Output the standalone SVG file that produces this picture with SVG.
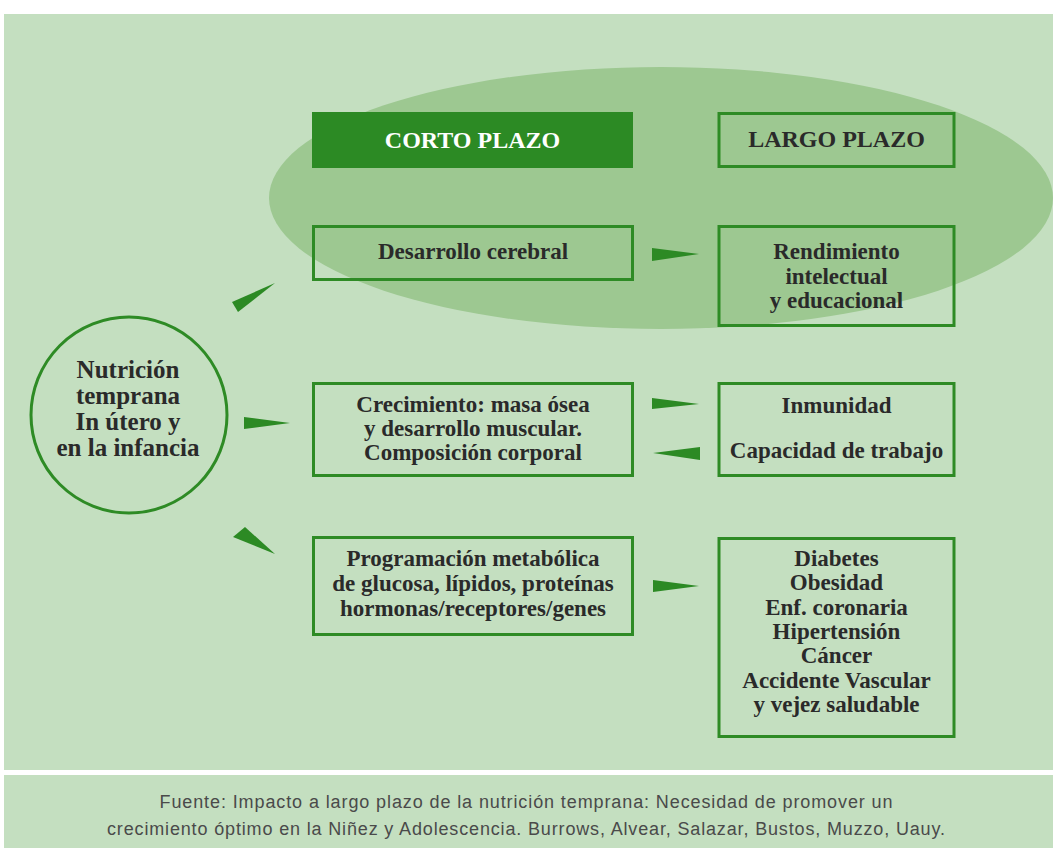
<svg xmlns="http://www.w3.org/2000/svg" width="1053" height="848" viewBox="0 0 1053 848">
<style>
.bg{fill:#c4dfc0}
.box{fill:none;stroke:#2e8b25;stroke-width:3}
.t{font-family:"Liberation Serif",serif;font-weight:bold;font-size:23px;fill:#2a2a2a;text-anchor:middle}
.c{font-size:25px}
.h{font-size:24px}
.w{fill:#ffffff}
.arr{fill:#2c8a24}
.src{font-family:"Liberation Sans",sans-serif;font-size:18px;fill:#4a4a4a;text-anchor:middle}
</style>
<rect x="0" y="0" width="1053" height="848" fill="#ffffff"/>
<rect class="bg" x="4" y="14" width="1049" height="756"/>
<rect class="bg" x="4" y="775" width="1049" height="73"/>
<ellipse cx="661" cy="198" rx="392" ry="131" fill="#9dc891"/>

<g id="connectors">
<polygon class="arr" points="232,302 238,312 275,283"/>
<polygon class="arr" points="244,417 244,429 290,423"/>
<polygon class="arr" points="233,537 245,527 275,554"/>
<polygon class="arr" points="652,248 652,261 699,254"/>
<polygon class="arr" points="652,398 652,409 699,404"/>
<polygon class="arr" points="700,447 700,460 653,453"/>
<polygon class="arr" points="653,580 653,592 699,586"/>
</g>

<g id="nutricion">
<circle cx="129" cy="415" r="98" fill="none" stroke="#2e8b25" stroke-width="3"/>
<text class="t c" x="128" y="378">Nutrición</text>
<text class="t c" x="128" y="404">temprana</text>
<text class="t c" x="128" y="430">In útero y</text>
<text class="t c" x="128" y="456">en la infancia</text>
</g>

<g id="corto">
<rect x="312" y="112" width="321" height="56" fill="#2c8a24"/>
<text class="t h w" x="472.5" y="148">CORTO PLAZO</text>
</g>

<g id="largo">
<rect class="box" x="719" y="113.5" width="235" height="53"/>
<text class="t h" x="836.5" y="147">LARGO PLAZO</text>
</g>

<g id="desarrollo">
<rect class="box" x="313.5" y="226.5" width="319" height="53"/>
<text class="t" x="473" y="259">Desarrollo cerebral</text>
</g>

<g id="rendimiento">
<rect class="box" x="719" y="226.5" width="235" height="99"/>
<text class="t" x="836.5" y="259">Rendimiento</text>
<text class="t" x="836.5" y="284">intelectual</text>
<text class="t" x="836.5" y="308">y educacional</text>
</g>

<g id="crecimiento">
<rect class="box" x="313.5" y="383.5" width="319" height="92"/>
<text class="t" x="473" y="412">Crecimiento: masa ósea</text>
<text class="t" x="473" y="436">y desarrollo muscular.</text>
<text class="t" x="473" y="460">Composición corporal</text>
</g>

<g id="inmunidad">
<rect class="box" x="719" y="383.5" width="235" height="92"/>
<text class="t" x="836.5" y="413">Inmunidad</text>
<text class="t" x="836.5" y="458">Capacidad de trabajo</text>
</g>

<g id="programacion">
<rect class="box" x="313.5" y="537.5" width="319" height="97"/>
<text class="t" x="473" y="566">Programación metabólica</text>
<text class="t" x="473" y="591">de glucosa, lípidos, proteínas</text>
<text class="t" x="473" y="616">hormonas/receptores/genes</text>
</g>

<g id="enfermedades">
<rect class="box" x="719" y="538.5" width="235" height="198"/>
<text class="t" x="836.5" y="566">Diabetes</text>
<text class="t" x="836.5" y="590">Obesidad</text>
<text class="t" x="836.5" y="615">Enf. coronaria</text>
<text class="t" x="836.5" y="639">Hipertensión</text>
<text class="t" x="836.5" y="663">Cáncer</text>
<text class="t" x="836.5" y="688">Accidente Vascular</text>
<text class="t" x="836.5" y="712">y vejez saludable</text>
</g>

<g id="fuente">
<text class="src" x="526" y="808" textLength="733" lengthAdjust="spacing">Fuente: Impacto a largo plazo de la nutrición temprana: Necesidad de promover un</text>
<text class="src" x="526" y="835" textLength="838" lengthAdjust="spacing">crecimiento óptimo en la Niñez y Adolescencia. Burrows, Alvear, Salazar, Bustos, Muzzo, Uauy.</text>
</g>
</svg>
